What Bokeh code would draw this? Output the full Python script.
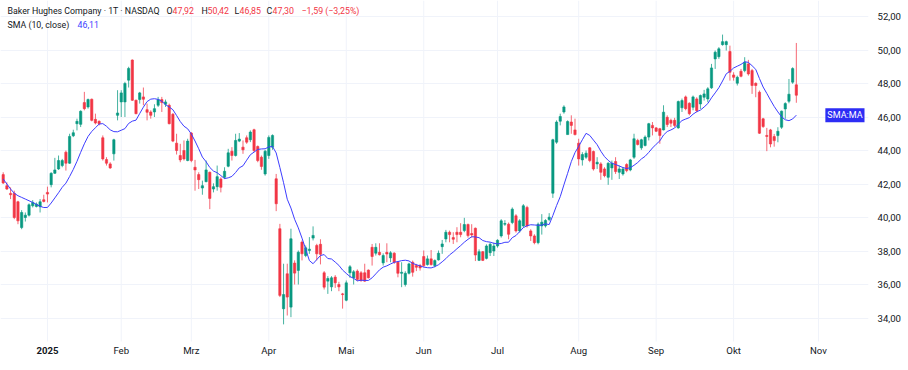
import numpy as np
import pandas as pd
from bokeh.plotting import figure
from bokeh.models import ColumnDataSource, FixedTicker, Label, Range1d
from bokeh.core.properties import value
from bokeh.embed import file_html
from bokeh.resources import INLINE

# ---- data (daily bars, Dec 13 2024 .. Oct 24 2025) ----
opens = [42.56, 41.90, 41.44, 41.44, 40.94, 39.40, 40.00, 40.14, 40.70, 40.66,
         40.64, 41.06, 41.50, 41.96, 42.64, 42.90, 43.10, 43.90, 43.24, 44.88,
         45.60, 45.56, 46.86, 46.60, 47.06, 45.86, 45.74, 44.76, 43.46, 43.20,
         43.80, 46.10, 46.90, 46.90, 48.20, 49.40, 47.00, 47.04, 47.20, 46.44,
         46.30, 46.30, 46.70, 47.04, 46.76, 46.70, 46.16, 44.44, 43.70, 44.00,
         43.40, 45.04, 43.00, 42.56, 41.76, 42.14, 42.70, 41.70, 41.84, 42.30,
         42.40, 43.06, 43.96, 43.70, 44.56, 44.20, 44.76, 44.64, 45.24, 44.24,
         43.60, 42.60, 43.70, 44.20, 42.31, 39.33, 34.55, 36.64, 34.65, 37.28,
         36.84, 38.53, 37.73, 38.03, 38.77, 38.33, 38.40, 36.70, 36.20, 35.86,
         36.44, 36.00, 35.44, 35.06, 36.70, 36.40, 36.80, 36.70, 36.70, 36.86,
         38.22, 37.87, 37.92, 37.29, 37.92, 37.59, 37.87, 37.33, 36.67, 36.00,
         36.67, 37.33, 37.13, 37.13, 37.67, 37.19, 37.53, 37.13, 37.47, 38.26,
         38.72, 39.12, 38.80, 39.12, 39.12, 39.22, 39.58, 39.04, 39.36, 37.44,
         37.96, 37.56, 37.90, 38.00, 38.30, 38.90, 39.60, 39.60, 39.70, 40.10,
         39.20, 39.50, 40.60, 39.20, 38.90, 38.50, 39.50, 39.50, 39.88, 41.45,
         44.50, 45.75, 46.30, 44.95, 45.70, 45.23, 44.44, 43.44, 43.60, 44.16,
         43.94, 43.20, 43.20, 42.90, 42.40, 42.96, 43.34, 42.70, 42.60, 43.16,
         42.84, 43.60, 44.60, 44.16, 44.30, 44.80, 45.50, 45.35, 45.30, 45.23,
         45.98, 45.80, 45.80, 45.35, 46.55, 47.20, 46.82, 46.58, 47.08, 46.78,
         47.18, 47.08, 47.74, 49.47, 49.60, 50.32, 50.32, 49.91, 48.51, 48.02,
         48.73, 48.77, 49.17, 48.77, 48.01, 47.48, 45.89, 44.90, 45.23, 44.83,
         44.89, 45.39, 46.48, 46.94, 48.08, 47.92]
highs = [42.70, 42.10, 41.80, 41.60, 41.00, 40.44, 40.30, 40.84, 41.04, 40.90,
         41.10, 41.36, 41.84, 42.70, 43.56, 43.70, 43.50, 44.00, 45.00, 45.24,
         45.90, 46.40, 47.50, 47.10, 47.10, 46.20, 45.80, 44.90, 43.60, 43.30,
         44.70, 47.60, 47.60, 48.10, 49.00, 49.44, 47.04, 47.50, 47.76, 46.80,
         46.40, 46.76, 47.20, 47.20, 47.04, 46.80, 46.24, 45.00, 44.40, 44.60,
         44.70, 45.10, 43.44, 42.70, 42.20, 43.40, 42.74, 42.04, 43.10, 42.40,
         43.00, 44.10, 44.20, 45.00, 45.04, 44.60, 44.90, 45.20, 45.30, 44.30,
         43.70, 44.04, 44.90, 44.96, 42.60, 39.62, 37.24, 37.24, 39.33, 37.44,
         38.03, 38.63, 38.33, 38.83, 39.47, 38.43, 38.70, 36.80, 36.50, 36.50,
         36.56, 36.16, 35.50, 36.24, 37.16, 36.86, 36.90, 36.80, 37.24, 36.90,
         38.42, 38.46, 38.46, 37.86, 38.46, 37.99, 37.93, 37.39, 37.33, 36.79,
         37.30, 37.43, 37.23, 37.23, 38.03, 37.73, 38.06, 37.50, 38.03, 38.66,
         39.26, 39.22, 39.12, 39.42, 39.66, 39.98, 39.64, 39.60, 39.40, 38.10,
         38.00, 38.40, 38.50, 38.50, 38.70, 39.90, 39.84, 39.70, 40.60, 40.20,
         39.90, 40.80, 40.70, 39.30, 39.00, 39.70, 40.20, 39.90, 40.26, 44.70,
         45.80, 46.20, 46.70, 45.80, 46.10, 45.90, 44.70, 43.90, 44.00, 44.20,
         44.00, 43.60, 43.30, 43.00, 43.30, 43.40, 43.60, 43.10, 43.00, 43.24,
         43.50, 45.00, 44.70, 44.70, 44.90, 45.65, 45.70, 45.40, 45.35, 46.70,
         46.10, 45.90, 45.95, 46.98, 47.10, 47.28, 46.88, 47.28, 47.18, 47.34,
         47.62, 47.78, 49.17, 49.97, 50.17, 50.92, 50.56, 50.26, 48.67, 48.47,
         48.87, 49.57, 49.41, 48.87, 48.07, 47.58, 45.95, 45.35, 45.29, 44.99,
         45.39, 46.38, 46.88, 48.27, 48.97, 50.42]
lows = [42.00, 41.64, 41.10, 39.90, 39.60, 39.30, 39.76, 40.06, 40.60, 40.60,
        40.30, 40.90, 40.90, 41.80, 42.60, 42.84, 43.00, 42.80, 43.20, 44.80,
        45.20, 45.40, 46.40, 46.50, 45.74, 45.56, 45.50, 43.40, 43.10, 42.90,
        43.40, 45.80, 46.00, 46.00, 47.76, 46.96, 46.16, 46.80, 46.70, 45.80,
        45.90, 46.00, 46.60, 46.30, 46.60, 45.56, 44.50, 43.76, 43.30, 43.40,
        43.36, 43.30, 41.60, 41.70, 41.36, 42.10, 40.50, 41.50, 41.60, 41.50,
        42.30, 43.00, 43.40, 43.64, 44.50, 43.80, 44.40, 44.50, 43.90, 43.30,
        42.85, 42.50, 43.50, 44.04, 40.38, 35.25, 33.62, 34.15, 34.05, 36.00,
        36.00, 37.44, 37.63, 37.83, 38.63, 37.44, 37.20, 35.70, 35.44, 35.60,
        35.80, 35.60, 34.56, 35.00, 36.40, 36.00, 36.20, 36.16, 36.16, 36.36,
        37.13, 37.73, 37.73, 37.13, 37.33, 37.33, 37.23, 36.43, 35.84, 35.88,
        36.60, 36.47, 36.80, 36.83, 37.03, 37.13, 37.13, 37.03, 37.43, 37.83,
        38.52, 38.52, 38.42, 38.52, 38.82, 39.12, 38.80, 38.80, 37.40, 37.40,
        37.40, 37.50, 37.70, 37.70, 38.20, 38.80, 39.50, 38.70, 39.60, 39.10,
        39.10, 39.40, 39.40, 38.60, 38.40, 38.40, 38.98, 39.40, 39.78, 41.17,
        44.40, 45.50, 46.20, 44.95, 45.00, 44.90, 43.10, 43.10, 43.50, 43.30,
        42.80, 42.90, 42.25, 42.40, 41.95, 42.25, 42.60, 42.30, 42.50, 42.70,
        42.76, 43.50, 44.30, 44.04, 44.24, 44.60, 44.90, 45.10, 44.40, 45.20,
        45.40, 45.40, 45.40, 45.30, 46.30, 46.40, 46.10, 46.40, 46.28, 46.48,
        46.98, 46.88, 47.68, 48.87, 49.47, 50.26, 49.97, 48.17, 48.17, 47.88,
        48.37, 48.67, 48.47, 47.38, 47.18, 44.99, 45.35, 43.96, 44.19, 44.23,
        44.49, 45.29, 45.89, 46.82, 47.98, 46.85]
closes = [42.06, 41.70, 41.36, 40.00, 39.80, 40.30, 40.14, 40.76, 40.90, 40.80,
          40.94, 40.96, 41.40, 42.64, 42.84, 43.40, 43.40, 43.24, 44.84, 45.06,
          45.74, 46.34, 46.50, 47.04, 45.80, 45.64, 45.60, 43.50, 43.24, 42.96,
          44.64, 46.24, 47.44, 48.00, 48.90, 47.00, 46.20, 47.44, 47.06, 46.28,
          46.10, 46.50, 47.04, 46.86, 46.90, 45.60, 44.56, 44.00, 43.44, 43.50,
          44.56, 43.40, 42.84, 42.26, 41.90, 42.84, 41.14, 41.84, 42.44, 41.80,
          42.76, 43.86, 43.70, 44.60, 44.68, 44.04, 44.50, 45.10, 44.00, 43.40,
          43.05, 43.96, 44.78, 44.90, 40.82, 35.35, 35.40, 35.25, 38.73, 36.68,
          37.93, 37.83, 38.19, 38.11, 38.93, 37.83, 37.80, 35.84, 36.36, 36.40,
          36.10, 35.86, 35.40, 36.10, 37.06, 36.76, 36.30, 36.24, 36.20, 36.40,
          37.67, 38.22, 37.78, 37.73, 37.82, 37.89, 37.33, 36.67, 36.73, 36.67,
          37.23, 36.73, 37.03, 36.99, 37.13, 37.53, 37.19, 37.43, 37.87, 38.42,
          39.12, 38.98, 38.70, 38.98, 38.98, 39.58, 38.92, 38.96, 37.76, 37.96,
          37.44, 38.30, 38.40, 38.30, 38.64, 39.80, 39.64, 39.00, 40.50, 39.20,
          39.80, 40.70, 39.50, 38.90, 38.50, 39.60, 39.72, 39.82, 40.02, 44.64,
          45.70, 46.03, 46.60, 45.73, 45.50, 44.95, 43.50, 43.76, 43.84, 43.40,
          42.90, 43.30, 42.70, 42.50, 43.24, 43.24, 42.74, 42.90, 42.90, 42.80,
          43.44, 44.70, 44.36, 44.64, 44.80, 45.60, 45.35, 45.15, 44.90, 46.29,
          45.55, 45.63, 45.50, 46.92, 46.98, 46.50, 46.20, 47.20, 46.38, 47.28,
          47.38, 47.68, 48.93, 49.87, 50.07, 50.50, 50.50, 48.67, 48.37, 48.37,
          48.43, 49.27, 48.57, 47.88, 47.88, 45.03, 45.43, 44.84, 44.39, 44.59,
          45.15, 46.35, 46.80, 47.36, 48.89, 47.30]
# SMA values before a full 10-bar window exists
sma_head = [42.30, 42.00, 41.70, 41.45, 41.30, 41.20, 41.10, 41.00, 40.90]

month_ticks = [12, 32, 51, 72, 93, 114, 134, 156, 177, 198, 221]
month_labels = ["2025", "Feb", "Mrz", "Apr", "Mai", "Jun", "Jul", "Aug", "Sep", "Okt", "Nov"]
price_ticks = [34, 36, 38, 40, 42, 44, 46, 48, 50, 52]
price_labels = ["34,00", "36,00", "38,00", "40,00", "42,00", "44,00", "46,00", "48,00", "50,00", "52,00"]

title_text = "Baker Hughes Company \u00b7 1T \u00b7 NASDAQ"
sma_title = "SMA (10, close)"
sma_tag = "SMA:MA"

# ---- styling ----
UP = "#089981"
DOWN = "#F23645"
SMA_COLOR = "#3d3dff"
TAG_COLOR = "#2d2df5"
TXT = "#131722"
GRID = "#f0f3fa"
FONT = "Roboto"

n = len(closes)
idx = np.arange(n)
o = np.array(opens); h = np.array(highs); l = np.array(lows); c = np.array(closes)
sma = pd.Series(c).rolling(10).mean().to_numpy()
sma[:9] = sma_head
colors = np.where(c >= o, UP, DOWN)

src = ColumnDataSource(dict(x=idx, o=o, h=h, l=l, c=c,
                            top=np.maximum(o, c), bot=np.minimum(o, c),
                            color=colors))

# frame geometry (pixels) -> data ranges
FW, FH = 868, 360
PX_PER_BAR = 3.689
PX_PER_UNIT = 16.75
XLO = -2.7 / PX_PER_BAR
XHI = XLO + FW / PX_PER_BAR
YHI = 52 + 16 / PX_PER_UNIT
YLO = YHI - FH / PX_PER_UNIT

def xpx(px):
    return XLO + px / PX_PER_BAR

def ypx(px):
    return YHI - px / PX_PER_UNIT

PRICE_BOTTOM = ypx(341)   # bottom of the price pane
LABEL_Y = ypx(350)        # time-scale labels

p = figure(frame_width=FW, frame_height=FH,
           x_range=Range1d(XLO, XHI), y_range=Range1d(YLO, YHI),
           x_axis_location=None, y_axis_location="right",
           output_backend="svg", toolbar_location=None,
           min_border_left=0, min_border_top=0, min_border_bottom=0, min_border_right=0)
p.outline_line_color = None
p.background_fill_color = "white"

p.xgrid.visible = False
p.ygrid.ticker = FixedTicker(ticks=price_ticks)
p.ygrid.grid_line_color = GRID

# vertical month grid lines (price pane only)
p.segment(x0=month_ticks, y0=[PRICE_BOTTOM] * len(month_ticks),
          x1=month_ticks, y1=[YHI] * len(month_ticks),
          line_color=GRID, line_width=1, level="underlay")

p.yaxis.ticker = FixedTicker(ticks=price_ticks)
p.yaxis.major_label_overrides = dict(zip(price_ticks, price_labels))
ax = p.yaxis[0]
ax.axis_line_color = None
ax.major_tick_line_color = None
ax.minor_tick_line_color = None
ax.major_label_text_font = FONT
ax.major_label_text_font_size = "9.6px"
ax.major_label_text_color = TXT
ax.major_label_standoff = 3

# time-scale labels (year label bold)
lab_src = ColumnDataSource(dict(x=month_ticks, y=[LABEL_Y] * len(month_ticks), t=month_labels,
                                style=["bold" if s.isdigit() else "normal" for s in month_labels]))
p.text(x="x", y="y", text="t", source=lab_src, text_font=value(FONT), text_font_size="9.6px",
       text_font_style="style", text_color=TXT, text_align="center", text_baseline="middle")

# candles
p.segment(x0="x", y0="l", x1="x", y1="h", source=src, line_color="color", line_width=1, line_alpha=0.75)
p.vbar(x="x", width=0.62, top="top", bottom="bot", source=src,
       fill_color="color", line_color="color", line_width=0.6)
# SMA
p.line(idx, sma, line_color=SMA_COLOR, line_width=1)

def fmt(v):
    return f"{v:.2f}".replace(".", ",")

# header legend
chg = c[-1] - c[-2]
pct = chg / c[-2] * 100
line1 = [(7, title_text, TXT), (166, "O", TXT), (172, fmt(o[-1]), DOWN),
         (201, "H", TXT), (207, fmt(h[-1]), DOWN),
         (234, "L", TXT), (239, fmt(l[-1]), DOWN),
         (266, "C", TXT), (272, fmt(c[-1]), DOWN),
         (301, f"{fmt(chg)} ({fmt(pct)}%)".replace("-", "\u2212"), DOWN)]
for px, t, col in line1:
    p.add_layout(Label(x=xpx(px), y=ypx(10), text=t, text_font=FONT, text_font_size="8.8px",
                       text_color=col, text_baseline="middle", text_align="left"))
line2 = [(7, sma_title, TXT), (77, fmt(sma[-1]), SMA_COLOR)]
for px, t, col in line2:
    p.add_layout(Label(x=xpx(px), y=ypx(24), text=t, text_font=FONT, text_font_size="8.8px",
                       text_color=col, text_baseline="middle", text_align="left"))

# SMA price tag
p.add_layout(Label(x=xpx(864), y=sma[-1], text=sma_tag, text_font=FONT, text_font_size="9px",
                   text_color="white", background_fill_color=TAG_COLOR, text_align="right",
                   text_baseline="middle", padding=2))

open("out.html", "w").write(file_html(p, INLINE))
